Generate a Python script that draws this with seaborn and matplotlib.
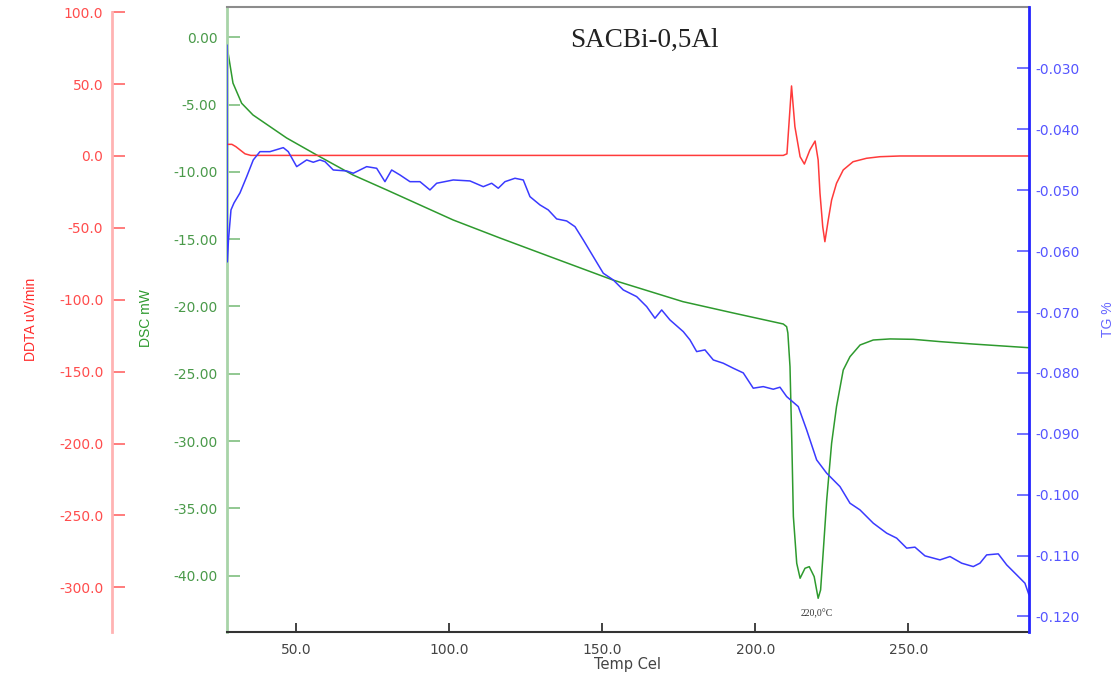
import numpy as np
import pandas as pd
import matplotlib
matplotlib.use("Agg")
import matplotlib.pyplot as plt
import seaborn as sns
from matplotlib.ticker import FormatStrFormatter

# ---- data ----
dsc_temp = [27.3, 29.26, 32.1, 35.8, 46.8, 56.6, 68.5, 79.5, 90.4, 101.2, 116.5,
            132.9, 153.4, 176.3, 192.7, 209.1, 210.2, 210.6, 211.3, 211.9, 212.4,
            213.5, 214.6, 216.2, 217.6, 219.2, 220.5, 221.3, 222.2, 223.3, 224.9,
            226.5, 228.7, 230.9, 234.2, 238.5, 244.0, 251.6, 260.3, 271.2, 289.2]
dsc_mw = [-0.65, -3.40, -4.90, -5.77, -7.48, -8.74, -10.23, -11.34, -12.46, -13.57,
          -14.91, -16.30, -18.03, -19.64, -20.48, -21.30, -21.50, -21.97, -24.47,
          -30.14, -35.60, -39.08, -40.19, -39.45, -39.33, -40.07, -41.68, -41.06,
          -38.09, -34.37, -30.16, -27.44, -24.72, -23.73, -22.86, -22.49, -22.41,
          -22.44, -22.61, -22.79, -23.06]

ddta_temp = [27.3, 28.9, 30.2, 33.2, 35.1, 120.0, 209.1, 210.3, 211.8, 212.9,
             214.6, 216.0, 217.8, 219.5, 220.5, 221.1, 222.0, 222.7, 223.8, 224.9,
             226.5, 228.7, 231.9, 236.3, 240.7, 247.2, 289.4]
ddta_uv = [8.1, 8.1, 6.5, 1.5, 0.4, 0.4, 0.4, 1.5, 48.7, 20.4, -0.5, -5.6, 4.2,
           10.4, -2.8, -25.9, -49.2, -59.6, -44.5, -30.6, -19.0, -9.7, -4.0,
           -1.6, -0.5, 0.0, 0.0]

tg_temp = [27.30, 27.40, 27.79, 28.61, 29.59, 31.55, 33.74, 35.89, 38.08, 41.35,
           45.70, 47.33, 50.08, 53.35, 55.50, 57.69, 59.33, 62.04, 66.42, 68.57,
           72.95, 76.22, 78.93, 81.12, 83.84, 87.10, 90.37, 93.64, 95.83, 101.25,
           106.71, 111.06, 113.80, 115.96, 118.15, 121.42, 124.13, 126.32, 129.59,
           132.30, 135.05, 138.31, 141.03, 143.74, 147.01, 150.28, 153.54, 156.81,
           161.19, 164.46, 167.17, 169.36, 172.07, 176.42, 178.61, 180.80, 183.51,
           186.23, 189.49, 192.76, 196.03, 199.29, 202.56, 205.83, 208.02, 210.21,
           214.00, 216.74, 220.01, 223.28, 227.63, 230.90, 234.17, 238.51, 242.89,
           246.16, 249.43, 252.14, 255.41, 260.31, 263.58, 267.40, 271.19, 273.38,
           275.57, 279.36, 282.11, 285.38, 288.08, 289.39]
tg_pct = [-0.02614, -0.06177, -0.05816, -0.05323, -0.05209, -0.05044, -0.04777,
          -0.04502, -0.04366, -0.04366, -0.04300, -0.04366, -0.04612, -0.04502,
          -0.04540, -0.04502, -0.04530, -0.04667, -0.04683, -0.04721, -0.04612,
          -0.04639, -0.04859, -0.04667, -0.04749, -0.04859, -0.04859, -0.04995,
          -0.04885, -0.04831, -0.04847, -0.04941, -0.04885, -0.04967, -0.04859,
          -0.04803, -0.04831, -0.05105, -0.05241, -0.05323, -0.05471, -0.05504,
          -0.05598, -0.05816, -0.06090, -0.06363, -0.06473, -0.06637, -0.06747,
          -0.06911, -0.07102, -0.06966, -0.07130, -0.07322, -0.07458, -0.07650,
          -0.07622, -0.07787, -0.07841, -0.07923, -0.08000, -0.08251, -0.08225,
          -0.08268, -0.08235, -0.08389, -0.08553, -0.08936, -0.09429, -0.09647,
          -0.09867, -0.10140, -0.10250, -0.10468, -0.10632, -0.10714, -0.10878,
          -0.10862, -0.11005, -0.11071, -0.11016, -0.11125, -0.11181, -0.11125,
          -0.10989, -0.10972, -0.11153, -0.11317, -0.11454, -0.11645]

x_ticks = [50, 100, 150, 200, 250]
dsc_ticks = [0, -5, -10, -15, -20, -25, -30, -35, -40]
ddta_ticks = [100, 50, 0, -50, -100, -150, -200, -250, -300]
tg_ticks = [-0.030, -0.040, -0.050, -0.060, -0.070, -0.080, -0.090, -0.100, -0.110, -0.120]

title_text = "SACBi-0,5Al"
peak_label = "220,0°C"
peak_temp = 220.1
peak_y = -42.8

dsc_df = pd.DataFrame({"temp": dsc_temp, "val": dsc_mw})
ddta_df = pd.DataFrame({"temp": ddta_temp, "val": ddta_uv})
tg_df = pd.DataFrame({"temp": tg_temp, "val": tg_pct})

sns.set_style("white")
plt.rcParams["font.family"] = ["DejaVu Sans"]

RED = "#ff3a3a"
GREEN = "#2e9a2e"
BLUE = "#3a3aff"
W, H = 1117, 682

fig = plt.figure(figsize=(11.17, 6.82), dpi=100)
ax = fig.add_axes([0.2032, 0.0738, 0.7180, 0.9155])
ax_red = ax.twinx()
ax_tg = ax.twinx()

# DSC (host, green, left spine)
sns.lineplot(data=dsc_df, x="temp", y="val", ax=ax, color=GREEN, lw=1.1,
             estimator=None, sort=False)
ax.set_xlim(27.3, 289.4)
ax.set_ylim(-44.16, 2.23)
ax.set_xticks(x_ticks)
ax.xaxis.set_major_formatter(FormatStrFormatter("%.1f"))
ax.set_yticks(dsc_ticks)
ax.yaxis.set_major_formatter(FormatStrFormatter("%.2f"))
ax.tick_params(axis="x", direction="in", length=6.5, width=1.2, color="#222222",
               labelcolor="#444444", labelsize=10, pad=8, bottom=True)
ax.tick_params(axis="y", direction="in", length=9, width=1.2, color="#7fbf7f",
               labelcolor="#4a9a4a", labelsize=10, pad=7, left=True)
ax.spines["left"].set_color("#a8d4a8")
ax.spines["left"].set_linewidth(2)
ax.spines["top"].set_color("#8c8c8c")
ax.spines["top"].set_linewidth(1.5)
ax.spines["bottom"].set_color("#333333")
ax.spines["bottom"].set_linewidth(1.5)
ax.spines["right"].set_visible(False)
ax.set_xlabel("")
ax.set_ylabel("")

# DDTA (red, detached left spine)
sns.lineplot(data=ddta_df, x="temp", y="val", ax=ax_red, color=RED, lw=1.1,
             estimator=None, sort=False)
ax_red.set_ylim(-330.8, 103.4)
ax_red.set_yticks(ddta_ticks)
ax_red.yaxis.set_major_formatter(FormatStrFormatter("%.1f"))
ax_red.yaxis.set_ticks_position("left")
for s in ["top", "bottom", "right"]:
    ax_red.spines[s].set_visible(False)
ax_red.spines["left"].set_position(("axes", -0.1438))
ax_red.spines["left"].set_color("#ffb3b3")
ax_red.spines["left"].set_linewidth(2)
ax_red.spines["left"].set_bounds(-330.8, 100)
ax_red.tick_params(axis="y", direction="in", length=9.5, width=1.2, color="#ff6666",
                   labelcolor="#ff4d4d", labelsize=10, pad=6)
ax_red.set_ylabel("")
ax_red.set_xlabel("")

# TG (blue, right spine)
sns.lineplot(data=tg_df, x="temp", y="val", ax=ax_tg, color=BLUE, lw=1.1,
             estimator=None, sort=False)
ax_tg.set_ylim(-0.1225, -0.01995)
ax_tg.set_yticks(tg_ticks)
ax_tg.yaxis.set_major_formatter(FormatStrFormatter("%.3f"))
for s in ["top", "bottom", "left"]:
    ax_tg.spines[s].set_visible(False)
ax_tg.spines["right"].set_color("#2424ff")
ax_tg.spines["right"].set_linewidth(2)
ax_tg.tick_params(axis="y", direction="in", length=9, width=1.2, color="#5a5aff",
                  labelcolor="#5555ff", labelsize=10, pad=4.5)
ax_tg.set_ylabel("")
ax_tg.set_xlabel("")

for a in (ax, ax_red, ax_tg):
    a.grid(False)
    a.set_xlim(27.3, 289.4)

# axis titles, placed in figure pixels
lab_font = ["Liberation Sans", "DejaVu Sans"]
fig.text(31 / W, 1 - 319 / H, "DDTA uV/min", rotation=90, ha="center", va="center",
         fontsize=10, color="#ff2a2a", family=lab_font)
fig.text(146 / W, 1 - 318 / H, "DSC mW", rotation=90, ha="center", va="center",
         fontsize=10, color=GREEN, family=lab_font)
fig.text(1108 / W, 1 - 319 / H, "TG %", rotation=90, ha="center", va="center",
         fontsize=10, color="#6666ff", family=lab_font)
fig.text(628 / W, 1 - 665 / H, "Temp Cel", ha="center", va="center",
         fontsize=10.5, color="#444444")

ax.text(0.52, 0.947, title_text, transform=ax.transAxes, ha="center", va="center",
        fontsize=19.5, family="Liberation Serif", color="#222222")
ax.text(peak_temp, peak_y, peak_label, ha="center", va="center",
        fontsize=7, family="Liberation Serif", color="#333333")

fig.savefig("out.png", dpi=100)
plt.close(fig)
